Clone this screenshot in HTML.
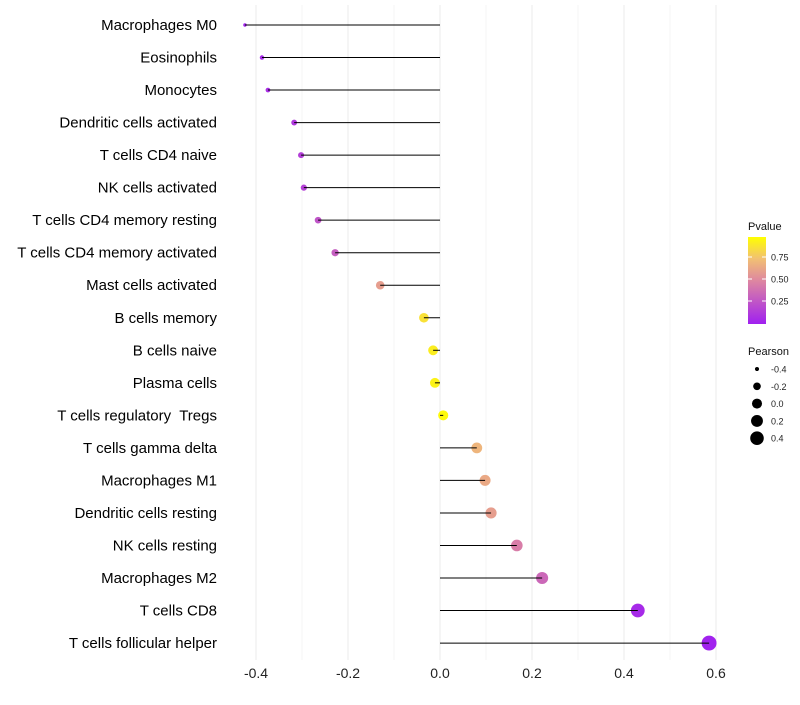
<!DOCTYPE html>
<html><head><meta charset="utf-8"><style>
body{margin:0;background:#fff;font-family:"Liberation Sans",sans-serif}
svg text{font-family:"Liberation Sans",sans-serif;white-space:pre}
</style></head><body>
<svg id="chart" width="800" height="700"></svg>
<script>
const categories=["Macrophages M0","Eosinophils","Monocytes","Dendritic cells activated","T cells CD4 naive","NK cells activated","T cells CD4 memory resting","T cells CD4 memory activated","Mast cells activated","B cells memory","B cells naive","Plasma cells","T cells regulatory  Tregs","T cells gamma delta","Macrophages M1","Dendritic cells resting","NK cells resting","Macrophages M2","T cells CD8","T cells follicular helper"];
const pearson=[-0.424,-0.387,-0.374,-0.317,-0.302,-0.296,-0.265,-0.228,-0.130,-0.035,-0.015,-0.011,0.007,0.080,0.098,0.111,0.167,0.222,0.430,0.585];
const pvalues=[0.02,0.05,0.07,0.12,0.15,0.16,0.25,0.30,0.60,0.88,0.93,0.95,0.98,0.70,0.65,0.60,0.45,0.35,0.05,0.01];
const xTicks=[-0.4,-0.2,0.0,0.2,0.4,0.6];
const pTicks=[0.25,0.50,0.75];
const sizeTicks=[-0.4,-0.2,0.0,0.2,0.4];

const NS="http://www.w3.org/2000/svg";
const svg=document.getElementById('chart');
function mk(t,a,p){const e=document.createElementNS(NS,t);for(const k in a)e.setAttribute(k,a[k]);(p||svg).appendChild(e);return e;}
const x=v=>440+v*460;
const y=i=>25+i*32.53;
const r=v=>Math.sqrt(Math.max(2.5,3+(v+0.424)*52));
function col(p){const s=[[0,[160,32,240]],[0.5,[222,135,160]],[0.75,[242,192,115]],[1,[255,255,0]]];let k=0;while(k<s.length-2&&p>s[k+1][0])k++;const a=s[k],b=s[k+1];const t=(p-a[0])/(b[0]-a[0]);const c=a[1].map((v,i)=>Math.round(v+(b[1][i]-v)*t));return `rgb(${c})`;}

for(let k=-4;k<=6;k++){const v=k/10;const g=mk('line',{x1:x(v),x2:x(v),y1:5,y2:660,stroke:'#ebebeb','stroke-width':k%2===0?1:0.5});
}
xTicks.forEach(v=>{const t=mk('text',{x:x(v),y:678,'text-anchor':'middle','font-size':14,fill:'#222'});t.textContent=v.toFixed(1);
});
categories.forEach((c,i)=>{
const t=mk('text',{x:217,y:y(i)+5,'text-anchor':'end','font-size':15,fill:'#000'});t.textContent=c;

const d=mk('circle',{cx:x(pearson[i]),cy:y(i),r:r(pearson[i]),fill:col(pvalues[i])});

const l=mk('line',{x1:x(0),x2:x(pearson[i]),y1:y(i),y2:y(i),stroke:'#000','stroke-width':1});

});
const defs=mk('defs',{});const lg=mk('linearGradient',{id:'pg',x1:0,y1:1,x2:0,y2:0},defs);
[0,0.25,0.5,0.75,1].forEach(o=>mk('stop',{offset:o,'stop-color':col(o)},lg));
let t=mk('text',{x:748,y:230,'font-size':11,fill:'#111'});t.textContent='Pvalue';
const cb=mk('rect',{x:748,y:237,width:18,height:87,fill:'url(#pg)'});
const py=p=>323-p*88;
pTicks.forEach(p=>{mk('line',{x1:748,x2:752,y1:py(p),y2:py(p),stroke:'#fff'});mk('line',{x1:762,x2:766,y1:py(p),y2:py(p),stroke:'#fff'});
const tt=mk('text',{x:771,y:py(p)+3.5,'font-size':9,fill:'#222'});tt.textContent=p.toFixed(2);});
t=mk('text',{x:748,y:355,'font-size':11,fill:'#111'});t.textContent='Pearson';
sizeTicks.forEach((v,i)=>{const cy=369+i*17.3;const c=mk('circle',{cx:757,cy:cy,r:r(v),fill:'#000'});
const tt=mk('text',{x:771,y:cy+3.5,'font-size':9,fill:'#222'});tt.textContent=v.toFixed(1);});
</script>
</body></html>
